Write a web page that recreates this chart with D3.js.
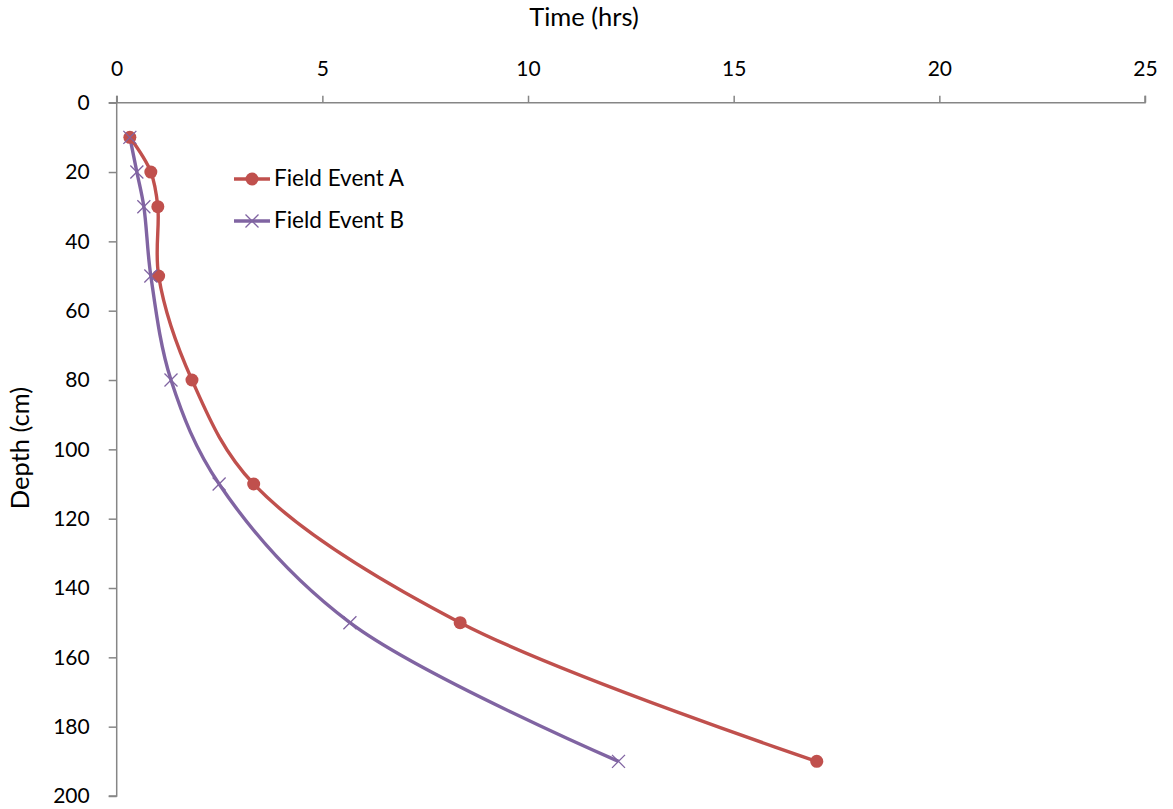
<!DOCTYPE html>
<html><head><meta charset="utf-8">
<script src="https://cdn.jsdelivr.net/npm/d3@7"></script>
<style>body{margin:0;background:#fff;} text{font-family:Lato,"Open Sans",sans-serif;fill:#000;}</style>
</head><body>
<svg id="c" width="1173" height="809"></svg>
<script>
const depths = [10, 20, 30, 50, 80, 110, 150, 190];
const timeA = [0.32, 0.83, 1.0, 1.02, 1.83, 3.33, 8.35, 17.02];
const timeB = [0.32, 0.49, 0.66, 0.83, 1.32, 2.49, 5.67, 12.2];
const seriesNames = ["Field Event A", "Field Event B"];
const xTicks = [0, 5, 10, 15, 20, 25];
const yTicks = [0, 20, 40, 60, 80, 100, 120, 140, 160, 180, 200];
const colors = ["#C0504D", "#8064A2"];

const svg = d3.select("#c");
const x = d3.scaleLinear().domain([0, 25]).range([116.7, 1145]);
const y = d3.scaleLinear().domain([0, 200]).range([102.7, 796]);
const axisColor = "#868686";

const gx = svg.append("g").attr("transform", `translate(0,${y(0)})`)
  .call(d3.axisTop(x).tickValues(xTicks).tickSize(7).tickPadding(20).tickFormat(d3.format("d")));
const gy = svg.append("g").attr("transform", `translate(${x(0)},0)`)
  .call(d3.axisLeft(y).tickValues(yTicks).tickSize(8).tickPadding(19).tickFormat(d3.format("d")));
[gx, gy].forEach(g => {
  g.select(".domain").attr("stroke", axisColor).attr("stroke-width", 1.5);
  g.selectAll(".tick line").attr("stroke", axisColor).attr("stroke-width", 1.5);
  g.selectAll(".tick text").attr("font-size", 21).attr("font-family", "Lato, 'Open Sans', sans-serif").attr("fill", "#000");
});
gy.select(".domain").attr("d", `M-8,${y(0)}H0V${y(200)}H-8`);
gx.select(".domain").attr("d", `M${x(0)},-7V0H${x(25)}V-7`);

svg.append("text").attr("x", 584).attr("y", 26).attr("text-anchor", "middle").attr("font-size", 25.5).text("Time (hrs)");
svg.append("text").attr("transform", `translate(29,448) rotate(-90)`).attr("text-anchor", "middle").attr("font-size", 25.5).text("Depth (cm)");

const line = d3.line().x(d => x(d[0])).y(d => y(d[1])).curve(d3.curveCatmullRom.alpha(0.5));
const dataA = depths.map((dp, i) => [timeA[i], dp]);
const dataB = depths.map((dp, i) => [timeB[i], dp]);

svg.append("path").datum(dataB).attr("d", line).attr("fill", "none").attr("stroke", colors[1]).attr("stroke-width", 3.4);
svg.append("path").datum(dataA).attr("d", line).attr("fill", "none").attr("stroke", colors[0]).attr("stroke-width", 3.4);

function xMark(g, cx, cy, s, col) {
  g.append("path").attr("d", `M${cx-s},${cy-s}L${cx+s},${cy+s}M${cx-s},${cy+s}L${cx+s},${cy-s}`)
    .attr("stroke", col).attr("stroke-width", 1.3).attr("fill", "none");
}
svg.append("g").selectAll("circle").data(dataA).join("circle")
  .attr("cx", d => x(d[0])).attr("cy", d => y(d[1])).attr("r", 6.5).attr("fill", colors[0]);
const gb = svg.append("g");
dataB.forEach(d => xMark(gb, x(d[0]), y(d[1]), 6.5, colors[1]));

// legend
const lg = svg.append("g");
[0, 1].forEach(i => {
  const ly = 179 + i * 42;
  lg.append("line").attr("x1", 234).attr("x2", 270).attr("y1", ly).attr("y2", ly).attr("stroke", colors[i]).attr("stroke-width", 3.4);
  if (i === 0) lg.append("circle").attr("cx", 252).attr("cy", ly).attr("r", 6.5).attr("fill", colors[0]);
  else xMark(lg, 252, ly, 6.5, colors[1]);
  lg.append("text").attr("x", 274).attr("y", ly + 7).attr("font-size", 22.5).text(seriesNames[i]);
});
</script>
</body></html>
